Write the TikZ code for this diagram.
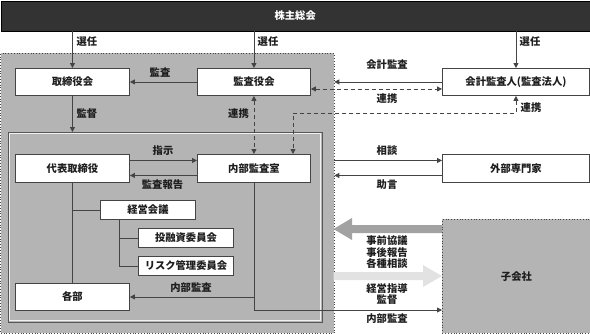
\documentclass[tikz,border=0pt]{standalone}
\usepackage{fontspec}
\setmainfont{Noto Sans CJK JP}
\usetikzlibrary{arrows.meta}
\definecolor{regiongray}{HTML}{B4B4B4}
\definecolor{bargray}{HTML}{333333}
\definecolor{linegray}{HTML}{444444}
\definecolor{darkarrow}{HTML}{A2A2A2}
\definecolor{lightarrow}{HTML}{E2E2E2}
\definecolor{txt}{HTML}{1E1E1E}
\begin{document}
\begin{tikzpicture}[x=1pt,y=-1pt,
  font=\fontsize{10.3}{12}\selectfont\bfseries,
  every node/.style={text=txt},
  box/.style={draw=linegray, fill=white, line width=0.9pt, inner sep=0pt, anchor=north west},
  ln/.style={draw=linegray, line width=0.8pt},
  arr/.style={ln, -{Triangle[length=5pt,width=5pt]}},
  darr/.style={ln, dashed, dash pattern=on 4pt off 3pt, {Triangle[length=5pt,width=5pt]}-{Triangle[length=5pt,width=5pt]}},
  lbl/.style={inner sep=0pt, text=txt},
]
\useasboundingbox (0,0) rectangle (590,333);
% outer region
\node[draw=linegray, dotted, fill=regiongray, line width=0.8pt, anchor=north west,
      minimum width=333pt, minimum height=280pt, inner sep=0pt] (outer) at (0.5,53) {};
% inner box
\node[draw=white!80!regiongray, line width=0.8pt, anchor=north west,
      minimum width=311pt, minimum height=187pt, inner sep=0pt] (innerhl) at (9.2,133.2) {};
\node[draw=linegray!90, line width=0.9pt, anchor=north west,
      minimum width=314pt, minimum height=190pt, inner sep=0pt] (inner) at (8,132) {};
% top bar
\node[draw=black, fill=bargray, anchor=north west, minimum width=589pt, minimum height=30pt,
      inner sep=0pt, text=white] (kabunushi) at (0.5,0.5) {株主総会};
% boxes
\node[box, minimum width=114pt, minimum height=27pt] (torishimari) at (15,68) {取締役会};
\node[box, minimum width=113pt, minimum height=27pt] (kansayaku) at (197,68) {監査役会};
\node[box, minimum width=147pt, minimum height=27pt] (kaikei) at (442,68) {会計監査人(監査法人)};
\node[box, minimum width=114pt, minimum height=28pt] (daihyo) at (15,154) {代表取締役};
\node[box, minimum width=113pt, minimum height=28pt] (naibu) at (197,154) {内部監査室};
\node[box, minimum width=147pt, minimum height=28pt] (gaibu) at (442,154) {外部専門家};
\node[box, minimum width=95pt, minimum height=19pt] (keiei) at (100,200) {経営会議};
\node[box, minimum width=95pt, minimum height=19pt] (toyu) at (138,228) {投融資委員会};
\node[box, minimum width=95pt, minimum height=19pt] (risk) at (138,256) {リスク管理委員会};
\node[box, minimum width=114pt, minimum height=27pt] (kakubu) at (15,283) {各部};
\node[draw=linegray, dotted, fill=regiongray, line width=0.8pt, anchor=north west,
      minimum width=148pt, minimum height=114pt, inner sep=0pt] (kogaisha) at (442,219) {子会社};
% big arrows
\fill[darkarrow] (kogaisha.west |- 0,225) -- (352,225) -- (352,218) -- (333.5,229) -- (352,240) -- (352,233) -- (kogaisha.west |- 0,233) -- cycle;
\fill[lightarrow] (333.5,272) -- (423,272) -- (423,265) -- (kogaisha.west |- 0,276) -- (423,287) -- (423,280) -- (333.5,280) -- cycle;
% election arrows
\draw[arr] (torishimari.north |- kabunushi.south) -- (torishimari.north);
\draw[arr] (kansayaku.north |- kabunushi.south) -- (kansayaku.north);
\draw[arr] (kaikei.north |- kabunushi.south) -- (kaikei.north);
\node[lbl] at (87,42) {選任};
\node[lbl] at (268,42) {選任};
\node[lbl] at (530,42) {選任};
% 監査
\draw[arr] (kansayaku.west) -- (torishimari.east);
\node[lbl] at (160,73) {監査};
% 監督
\draw[arr] (torishimari.south) -- (torishimari.south |- inner.north);
\node[lbl] at (87,114) {監督};
% 会計監査
\draw[arr] (kaikei.west) -- (kaikei.west -| outer.east);
\node[lbl] at (387,65) {会計監査};
% 連携 dashed
\draw[darr] ([yshift=-7pt]kansayaku.east) -- ([yshift=-7pt]kaikei.west);
\node[lbl] at (387,99) {連携};
\coordinate (d1) at (293,113);
\draw[darr] (kaikei.south) |- (d1) -- (d1 |- naibu.north);
\node[lbl] at (531,108) {連携};
\draw[darr] (kansayaku.south) -- (naibu.north);
\node[lbl] at (238.5,114) {連携};
% 指示 / 監査報告
\draw[arr] ([yshift=8pt]daihyo.east) -- ([yshift=8pt]daihyo.east -| naibu.west);
\node[lbl] at (163,151) {指示};
\draw[arr] ([yshift=-7pt]naibu.west) -- ([yshift=-7pt]naibu.west -| daihyo.east);
\node[lbl] at (162.5,185) {監査報告};
% 相談 / 助言
\draw[arr] ([yshift=8pt]gaibu.west -| outer.east) -- ([yshift=8pt]gaibu.west);
\node[lbl] at (387,151) {相談};
\draw[arr] ([yshift=-7pt]gaibu.west) -- ([yshift=-7pt]gaibu.west -| outer.east);
\node[lbl] at (387,185) {助言};
% organisation lines
\draw[ln] (daihyo.south) -- (kakubu.north);
\draw[ln] (keiei.west) -- (keiei.west -| daihyo.south);
\coordinate (kb) at ([xshift=19pt]keiei.south west);
\draw[ln] (kb) |- (risk.west);
\draw[ln] (toyu.west) -- (toyu.west -| kb);
% 内部監査
\coordinate (ia) at (naibu.south |- 0,310);
\draw[ln] (naibu.south) -- (ia);
\draw[arr] (naibu.south |- kakubu.east) -- (kakubu.east);
\node[lbl] at (191,288) {内部監査};
\draw[arr] (ia) -- (ia -| kogaisha.west);
% subsidiary labels
\node[lbl, align=center, font=\fontsize{10.3}{11.5}\selectfont\bfseries] at (387,252.5) {事前協議\\事後報告\\各種相談};
\node[lbl, align=center, font=\fontsize{10.3}{11.5}\selectfont\bfseries] at (387,294) {経営指導\\監督};
\node[lbl] at (387,319) {内部監査};
\end{tikzpicture}
\end{document}
